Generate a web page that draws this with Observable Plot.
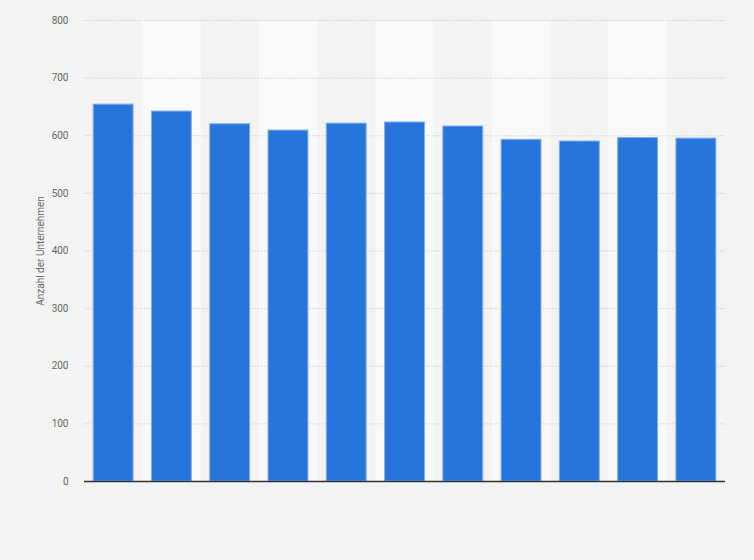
<!DOCTYPE html>
<html>
<head>
<meta charset="utf-8">
<script src="https://cdn.jsdelivr.net/npm/d3@7"></script>
<script src="https://cdn.jsdelivr.net/npm/@observablehq/plot@0.6"></script>
<style>
  html, body { margin: 0; padding: 0; background: #f3f3f3; }
  #chart { width: 754px; height: 560px; }
</style>
</head>
<body>
<div id="chart"></div>
<script>
const years = ["2008", "2009", "2010", "2011", "2012", "2013", "2014", "2015", "2016", "2017", "2018"];
const values = [654, 642, 620, 609, 621, 623, 616, 593, 590, 596, 595];
const yTicks = [0, 100, 200, 300, 400, 500, 600, 700, 800];
const yLabel = "Anzahl der Unternehmen";

const data = years.map((y, i) => ({ year: y, value: values[i] }));
const stripes = years.filter((y, i) => i % 2 === 1).map(y => ({ year: y }));

const chart = Plot.plot({
  width: 754,
  height: 560,
  marginLeft: 84,
  marginRight: 29,
  marginTop: 20,
  marginBottom: 79,
  style: { background: "#f3f3f3", fontFamily: "Roboto, 'Liberation Sans', Arial, sans-serif", fontSize: "10px", color: "#666" },
  x: { domain: years, padding: 0, round: false, axis: null },
  y: { domain: [0, 800], ticks: yTicks },
  marks: [
    Plot.barY(stripes, { x: "year", y1: 0, y2: 800, fill: "#f9f9f9" }),
    Plot.gridY(yTicks.filter(t => t > 0), { stroke: "#cfcfcf", strokeOpacity: 1, strokeDasharray: "1.5,1.5" }),
    Plot.axisY({
      ticks: yTicks,
      tickSize: 0,
      tickPadding: 16,
      label: yLabel,
      labelAnchor: "center",
      labelArrow: "none",
      labelOffset: 48,
      fill: "#666",
      fontSize: 10
    }),
    Plot.barY(data, { x: "year", y: "value", fill: "#2775db", stroke: "#7eaef0", strokeWidth: 1, insetLeft: 9.2, insetRight: 9.2 }),
    Plot.ruleY([0], { stroke: "#333", strokeWidth: 1.5 })
  ]
});
document.getElementById("chart").appendChild(chart);
</script>
</body>
</html>
